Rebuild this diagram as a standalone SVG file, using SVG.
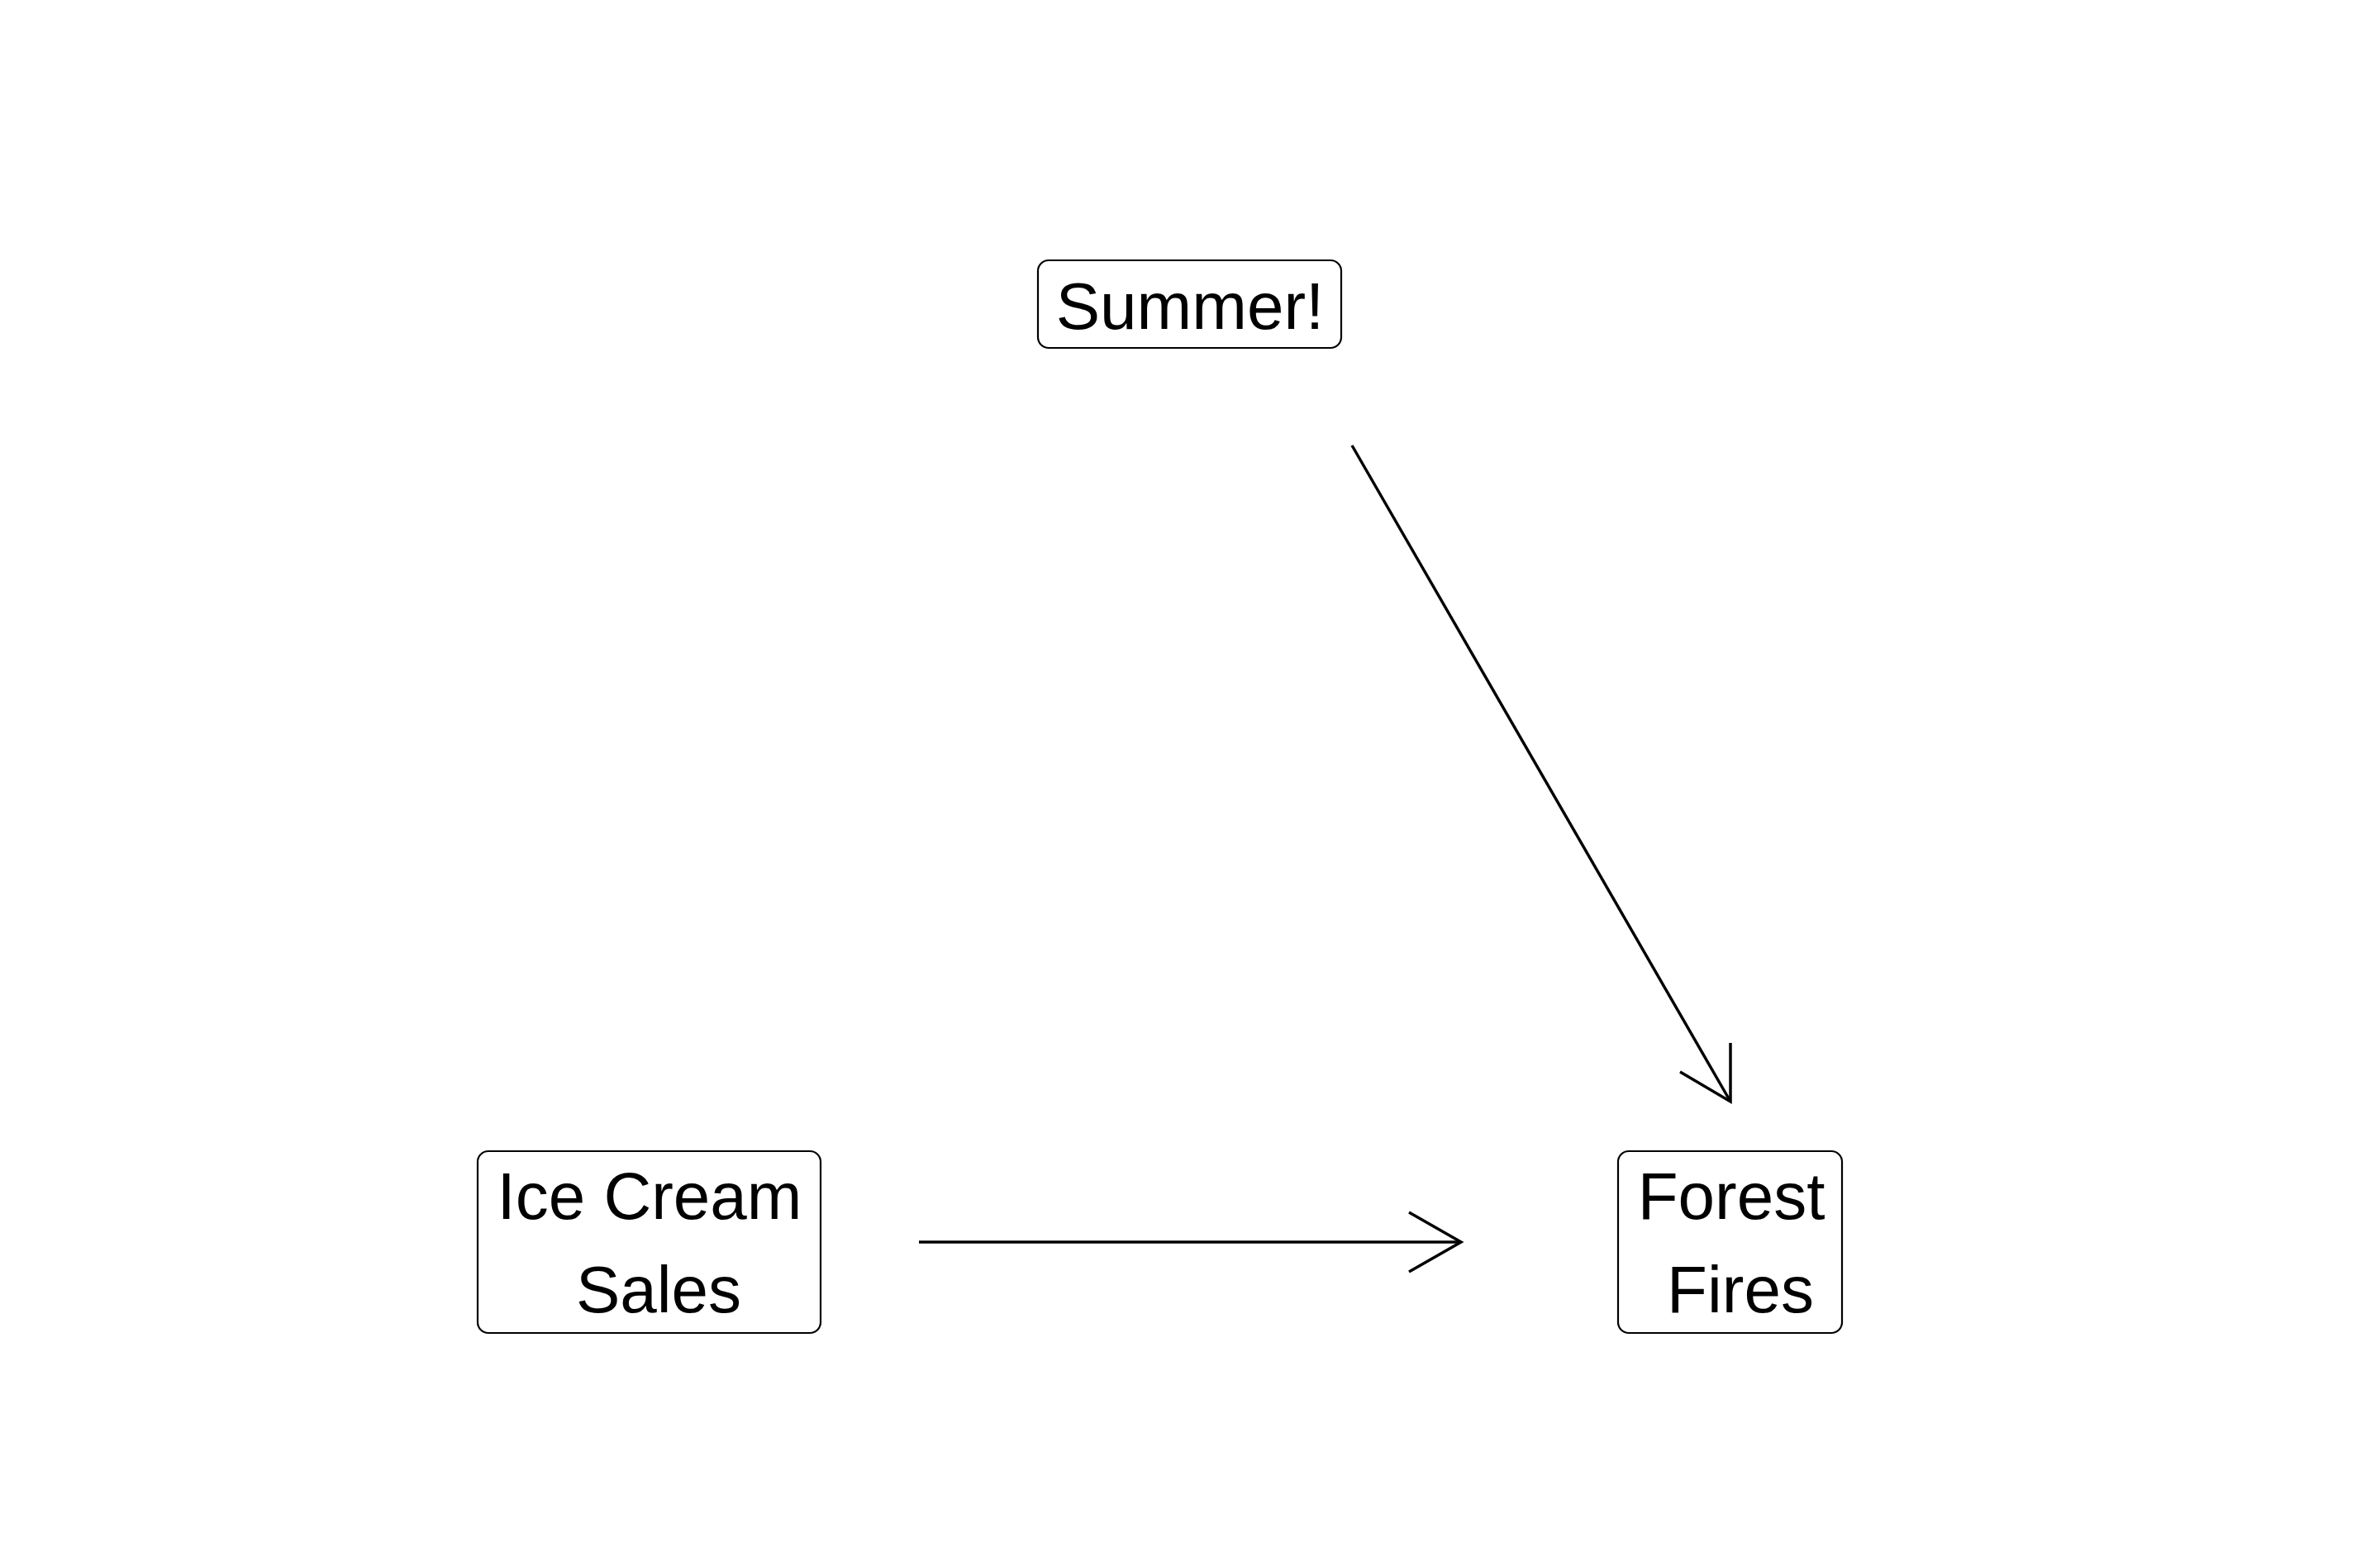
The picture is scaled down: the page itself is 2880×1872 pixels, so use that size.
<svg xmlns="http://www.w3.org/2000/svg" width="2880" height="1872" viewBox="0 0 2880 1872">
  <style>
    .box { fill: #ffffff; stroke: #000000; stroke-width: 2.2; }
    .lbl { font-family: "Liberation Sans", Arial, sans-serif; font-size: 80px; fill: #000000; text-anchor: middle; }
    .edge { fill: none; stroke: #000000; stroke-width: 3.5; stroke-linecap: butt; stroke-linejoin: miter; }
  </style>
  <rect width="2880" height="1872" fill="#ffffff"/>

  <g id="connectors">
    <!-- Summer! -> Forest Fires -->
    <path class="edge" d="M1636,539 L2094,1333"/>
    <path class="edge" d="M2094,1262 L2094,1333 L2033,1297"/>
    <!-- Ice Cream Sales -> Forest Fires -->
    <path class="edge" d="M1112,1503 L1768,1503"/>
    <path class="edge" d="M1705,1467 L1768,1503 L1705,1539"/>
  </g>

  <g id="node-summer">
    <rect class="box" x="1256" y="315" width="367" height="106" rx="13" ry="13"/>
    <text class="lbl" x="1440" y="398">Summer!</text>
  </g>

  <g id="node-icecream">
    <rect class="box" x="578" y="1393" width="415" height="220" rx="13" ry="13"/>
    <text class="lbl" x="786" y="1475">Ice Cream</text>
    <text class="lbl" x="797" y="1588">Sales</text>
  </g>

  <g id="node-forestfires">
    <rect class="box" x="1958" y="1393" width="271" height="220" rx="13" ry="13"/>
    <text class="lbl" x="2095" y="1475">Forest</text>
    <text class="lbl" x="2106" y="1588">Fires</text>
  </g>
</svg>
